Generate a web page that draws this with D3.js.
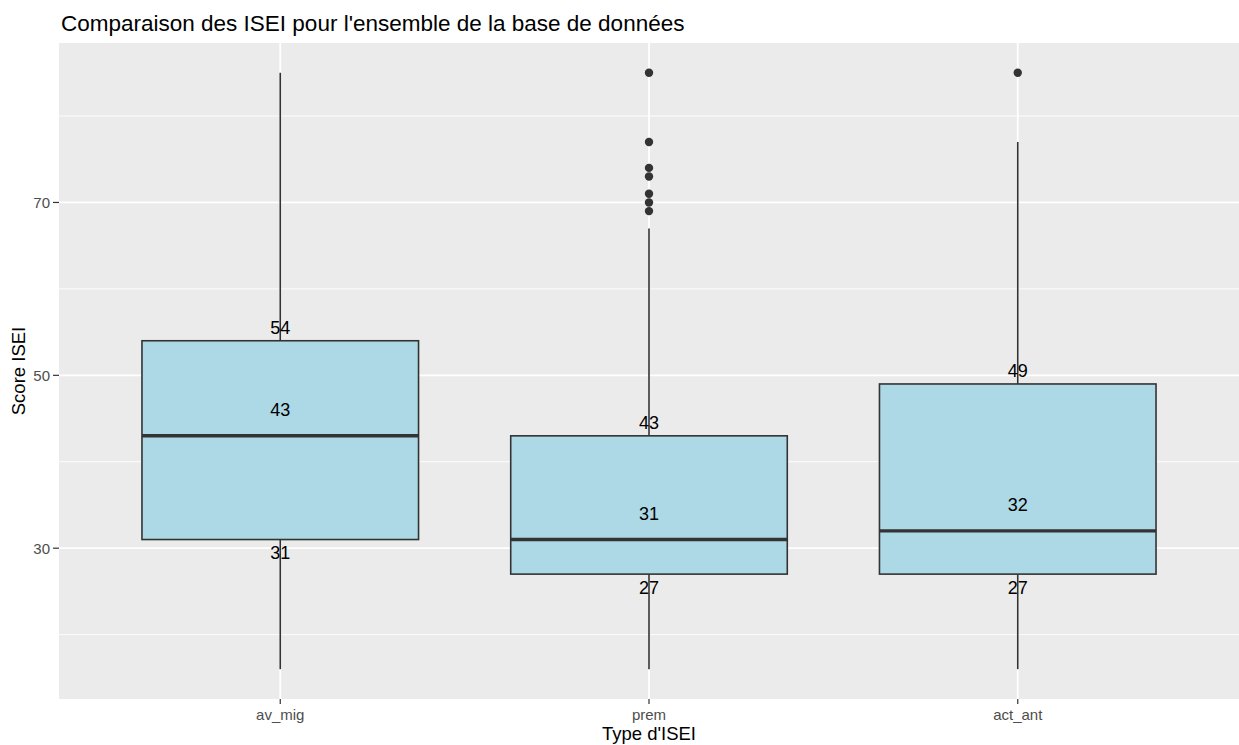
<!DOCTYPE html>
<html><head><meta charset="utf-8">
<script src="https://cdn.jsdelivr.net/npm/d3@7"></script>
<style>body{margin:0;background:#fff;} text{font-family:"Liberation Sans",Arial,sans-serif;}</style>
</head><body>
<svg id="c" width="1239" height="745"></svg>
<script>
const categories = ["av_mig", "prem", "act_ant"];
const q1 = [31, 27, 27];
const median = [43, 31, 32];
const q3 = [54, 43, 49];
const whiskerLow = [16, 16, 16];
const whiskerHigh = [85, 67, 77];
const outliers = [[], [85, 77, 74, 73, 71, 70, 69], [85]];
const yTicks = [30, 50, 70];
const yMinor = [20, 40, 60, 80];

const svg = d3.select("#c");
const panel = {left: 59, right: 1239, top: 43, bottom: 699};

const x = d3.scaleLinear().domain([0.4, 3.6]).range([panel.left, panel.right]);
const lo = 16, hi = 85, pad = (hi - lo) * 0.05;
const y = d3.scaleLinear().domain([lo - pad, hi + pad]).range([panel.bottom, panel.top]);

svg.append("rect").attr("x", panel.left).attr("y", panel.top)
  .attr("width", panel.right - panel.left).attr("height", panel.bottom - panel.top).attr("fill", "#ebebeb");

const g = svg.append("g");
yMinor.forEach(v => g.append("line").attr("x1", panel.left).attr("x2", panel.right)
  .attr("y1", y(v)).attr("y2", y(v)).attr("stroke", "#fff").attr("stroke-width", 0.9));
yTicks.forEach(v => g.append("line").attr("x1", panel.left).attr("x2", panel.right)
  .attr("y1", y(v)).attr("y2", y(v)).attr("stroke", "#fff").attr("stroke-width", 1.8));
categories.forEach((c, i) => g.append("line").attr("y1", panel.top).attr("y2", panel.bottom)
  .attr("x1", x(i + 1)).attr("x2", x(i + 1)).attr("stroke", "#fff").attr("stroke-width", 1.8));

const boxW = 0.75;
const ink = "#333333";
categories.forEach((c, i) => {
  const cx = x(i + 1);
  const x0 = x(i + 1 - boxW / 2), x1 = x(i + 1 + boxW / 2);
  g.append("line").attr("x1", cx).attr("x2", cx).attr("y1", y(q3[i])).attr("y2", y(whiskerHigh[i]))
    .attr("stroke", ink).attr("stroke-width", 1.6);
  g.append("line").attr("x1", cx).attr("x2", cx).attr("y1", y(q1[i])).attr("y2", y(whiskerLow[i]))
    .attr("stroke", ink).attr("stroke-width", 1.6);
  g.append("rect").attr("x", x0).attr("y", y(q3[i])).attr("width", x1 - x0).attr("height", y(q1[i]) - y(q3[i]))
    .attr("fill", "#add8e6").attr("stroke", ink).attr("stroke-width", 1.6);
  g.append("line").attr("x1", x0).attr("x2", x1).attr("y1", y(median[i])).attr("y2", y(median[i]))
    .attr("stroke", ink).attr("stroke-width", 3.4);
  outliers[i].forEach(v => g.append("circle").attr("cx", cx).attr("cy", y(v)).attr("r", 4.2).attr("fill", ink));
  const lab = (v, dy) => g.append("text").attr("x", cx).attr("y", y(v) + dy).attr("text-anchor", "middle")
    .attr("dominant-baseline", "central").attr("font-size", 18).attr("fill", "#000").text(v);
  lab(q3[i], -13);
  lab(median[i], -26);
  lab(q1[i], 13.5);
});

// axes
yTicks.forEach(v => {
  svg.append("line").attr("x1", panel.left - 6).attr("x2", panel.left).attr("y1", y(v)).attr("y2", y(v))
    .attr("stroke", ink).attr("stroke-width", 1.2);
  svg.append("text").attr("x", panel.left - 9).attr("y", y(v)).attr("text-anchor", "end")
    .attr("dominant-baseline", "central").attr("font-size", 15).attr("fill", "#4d4d4d").text(v);
});
categories.forEach((c, i) => {
  svg.append("line").attr("x1", x(i + 1)).attr("x2", x(i + 1)).attr("y1", panel.bottom).attr("y2", panel.bottom + 5)
    .attr("stroke", ink).attr("stroke-width", 1.2);
  svg.append("text").attr("x", x(i + 1)).attr("y", 720).attr("text-anchor", "middle")
    .attr("font-size", 15).attr("fill", "#4d4d4d").text(c);
});
svg.append("text").attr("x", (panel.left + panel.right) / 2).attr("y", 740).attr("text-anchor", "middle")
  .attr("font-size", 18.5).attr("fill", "#000").text("Type d'ISEI");
svg.append("text").attr("transform", `translate(25,${(panel.top + panel.bottom) / 2}) rotate(-90)`)
  .attr("text-anchor", "middle").attr("font-size", 18.5).attr("fill", "#000").text("Score ISEI");
svg.append("text").attr("x", 61).attr("y", 31).attr("font-size", 22.5).attr("fill", "#000")
  .text("Comparaison des ISEI pour l'ensemble de la base de données");
</script>
</body></html>
